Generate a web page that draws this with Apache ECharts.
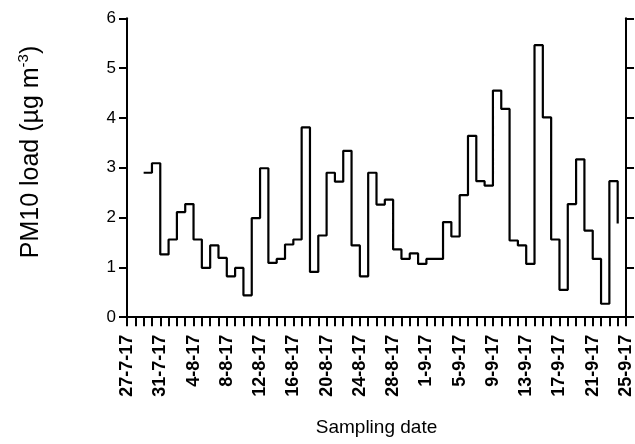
<!DOCTYPE html>
<html>
<head>
<meta charset="utf-8">
<script src="https://cdn.jsdelivr.net/npm/echarts@6/dist/echarts.min.js"></script>
<style>
html,body{margin:0;padding:0;background:#fff;}
#c{width:635px;height:444px;}
</style>
</head>
<body>
<div id="c"></div>
<script>
// Tick labels on the x axis (one every 4 days, day 0 = 27-7-17)
const tickLabels = ['27-7-17','31-7-17','4-8-17','8-8-17','12-8-17','16-8-17','20-8-17','24-8-17','28-8-17','1-9-17','5-9-17','9-9-17','13-9-17','17-9-17','21-9-17','25-9-17'];
const yTicks = [0, 1, 2, 3, 4, 5, 6];
// Daily PM10 load (µg m-3), first sample on day 2 (29-7-17)
const firstSampleDay = 2;
const pm10 = [
  2.90, 3.09, 1.26, 1.56, 2.11, 2.27, 1.56, 0.99, 1.44, 1.19,
  0.82, 0.99, 0.44, 1.99, 2.99, 1.09, 1.17, 1.46, 1.56, 3.81,
  0.91, 1.64, 2.90, 2.72, 3.34, 1.44, 0.82, 2.90, 2.26, 2.36,
  1.36, 1.17, 1.28, 1.07, 1.17, 1.17, 1.91, 1.62, 2.45, 3.64,
  2.73, 2.64, 4.55, 4.18, 1.54, 1.44, 1.07, 5.46, 4.01, 1.56,
  0.55, 2.27, 3.17, 1.74, 1.17, 0.27, 2.73, 1.88
];

const FONT = '"Liberation Sans", Arial, sans-serif';
const chart = echarts.init(document.getElementById('c'), null, {renderer: 'canvas'});
const axisLine = {show: true, lineStyle: {color: '#000', width: 2}};
chart.setOption({
  backgroundColor: '#fff',
  animation: false,
  grid: {left: 127, right: 4, top: 18.3, bottom: 123.3, containLabel: false},
  xAxis: {
    type: 'value', min: 0, max: (tickLabels.length - 1) * 4, interval: 4,
    axisLine: axisLine,
    axisTick: {show: true, length: 9, lineStyle: {color: '#000', width: 2}},
    minorTick: {show: true, splitNumber: 4, length: 9, lineStyle: {color: '#000', width: 2}},
    splitLine: {show: false}, minorSplitLine: {show: false},
    axisLabel: {
      rotate: 90, margin: 14, color: '#000', fontWeight: 'bold', fontSize: 18, fontFamily: FONT,
      formatter: v => tickLabels[Math.round(v / 4)]
    },
    name: 'Sampling date', nameLocation: 'middle', nameGap: 98,
    nameTextStyle: {color: '#000', fontSize: 19, fontFamily: FONT}
  },
  yAxis: [{
    type: 'value', min: -0.07, max: 6, position: 'left',
    axisLine: axisLine,
    axisTick: {show: true, length: 8, customValues: yTicks, lineStyle: {color: '#000', width: 2}},
    axisLabel: {show: true, customValues: yTicks, margin: 11, color: '#000', fontSize: 17, fontFamily: FONT},
    splitLine: {show: false}
  }, {
    type: 'value', min: -0.07, max: 6, position: 'right',
    axisLine: axisLine,
    axisTick: {show: true, length: 8, customValues: yTicks, lineStyle: {color: '#000', width: 2}},
    axisLabel: {show: false},
    splitLine: {show: false}
  }],
  graphic: [{
    type: 'text', x: 31, y: 152, rotation: Math.PI / 2,
    style: {
      text: '{a|PM10 load (µg m}{s|-3}{a|)}',
      align: 'center', verticalAlign: 'middle',
      fill: '#000', fontFamily: FONT,
      rich: {
        a: {fontSize: 25, fontFamily: FONT, fill: '#000', lineHeight: 29},
        s: {fontSize: 15, fontFamily: FONT, fill: '#000', verticalAlign: 'top', lineHeight: 29, padding: [0, 0, 11, 0]}
      }
    }
  }],
  series: [{
    type: 'line', step: 'end', symbol: 'none',
    lineStyle: {color: '#000', width: 2.2},
    data: pm10.map((v, i) => [firstSampleDay + i, v])
  }]
});
</script>
</body>
</html>
